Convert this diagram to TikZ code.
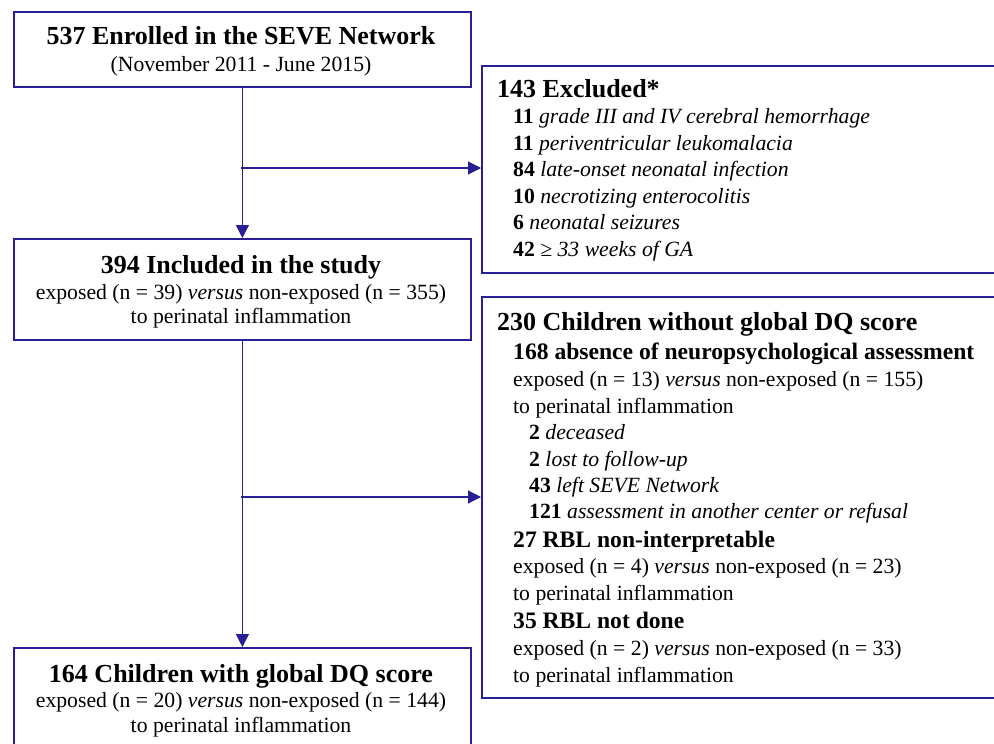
\documentclass[tikz,border=0pt]{standalone}
\usepackage{fontspec}
\setmainfont{Liberation Serif}
\usetikzlibrary{arrows.meta}
\definecolor{navy}{RGB}{40,30,150}
\tikzset{
  box/.style={draw=navy, line width=1.8pt, anchor=north west, inner sep=0pt},
  conn/.style={draw=navy, line width=1.2pt},
  arr/.style={conn, -{Triangle[length=13pt,width=13pt]}},
  ttl/.style={font=\fontsize{26}{30}\selectfont\bfseries, inner sep=0pt},
  sub/.style={font=\fontsize{23.6}{27}\selectfont\bfseries, inner sep=0pt, anchor=base west},
  txt/.style={font=\fontsize{21.7}{25}\selectfont, inner sep=0pt},
  ln/.style={txt, anchor=base west},
  ctr/.style={txt, anchor=base},
}
\begin{document}
\begin{tikzpicture}[x=1pt,y=-1pt]
\clip (0,0) rectangle (994,744);
\useasboundingbox (0,0) rectangle (994,744);
\fill[white] (0,0) rectangle (994,744);
% boxes
\node[box, minimum width=457pt, minimum height=75pt] (enr) at (13,11) {};
\node[box, minimum width=540pt, minimum height=207pt] (excl) at (481,65) {};
\node[box, minimum width=457pt, minimum height=101pt] (inc) at (13,238) {};
\node[box, minimum width=540pt, minimum height=401pt] (wo) at (481,296) {};
\node[box, minimum width=457pt, minimum height=130pt] (wi) at (13,647) {};
% texts box 1
\node[ttl, anchor=base] (t1) at (241,45) {537 Enrolled in the SEVE Network};
\node[ctr] (t1b) at (241,71) {(November 2011 - June 2015)};
% excluded
\node[ttl, anchor=base west] (t2) at (497,97) {143 Excluded*};
\node[ln] (e1) at (513,123) {\textbf{11} \textit{grade III and IV cerebral hemorrhage}};
\node[ln] (e2) at (513,150) {\textbf{11} \textit{periventricular leukomalacia}};
\node[ln] (e3) at (513,176) {\textbf{84} \textit{late-onset neonatal infection}};
\node[ln] (e4) at (513,203) {\textbf{10} \textit{necrotizing enterocolitis}};
\node[ln] (e5) at (513,229) {\textbf{6} \textit{neonatal seizures}};
\node[ln] (e6) at (513,256) {\textbf{42} \textit{≥ 33 weeks of GA}};
% included
\node[ttl, anchor=base] (t3) at (241,273) {394 Included in the study};
\node[ctr] (t3b) at (241,299) {exposed (n = 39) \textit{versus} non-exposed (n = 355)};
\node[ctr] (t3c) at (241,323) {to perinatal inflammation};
% without
\node[ttl, anchor=base west] (t4) at (497,330) {230 Children without global DQ score};
\node[sub] (w1) at (513,359) {168 absence of neuropsychological assessment};
\node[ln] (w2) at (513,386) {exposed (n = 13) \textit{versus} non-exposed (n = 155)};
\node[ln] (w3) at (513,413) {to perinatal inflammation};
\node[ln] (w4) at (529,439) {\textbf{2} \textit{deceased}};
\node[ln] (w5) at (529,466) {\textbf{2} \textit{lost to follow-up}};
\node[ln] (w6) at (529,492) {\textbf{43} \textit{left SEVE Network}};
\node[ln] (w7) at (529,518) {\textbf{121} \textit{assessment in another center or refusal}};
\node[sub] (w8) at (513,547) {27 RBL non-interpretable};
\node[ln] (w9) at (513,573) {exposed (n = 4) \textit{versus} non-exposed (n = 23)};
\node[ln] (w10) at (513,600) {to perinatal inflammation};
\node[sub] (w11) at (513,628) {35 RBL not done};
\node[ln] (w12) at (513,655) {exposed (n = 2) \textit{versus} non-exposed (n = 33)};
\node[ln] (w13) at (513,682) {to perinatal inflammation};
% with
\node[ttl, anchor=base] (t5) at (241,682) {164 Children with global DQ score};
\node[ctr] (t5b) at (241,707) {exposed (n = 20) \textit{versus} non-exposed (n = 144)};
\node[ctr] (t5c) at (241,732) {to perinatal inflammation};
% connectors
\draw[arr] (enr.south) -- (inc.north);
\coordinate (j1) at (241,168);
\draw[arr] (j1) -- (j1 -| excl.west);
\draw[arr] (inc.south) -- (wi.north);
\coordinate (j2) at (241,497);
\draw[arr] (j2) -- (j2 -| wo.west);
\end{tikzpicture}
\end{document}
